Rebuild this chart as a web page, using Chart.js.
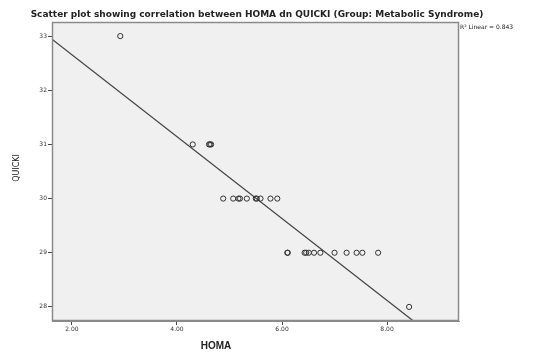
<!DOCTYPE html>
<html>
<head>
<meta charset="utf-8">
<script src="https://cdn.jsdelivr.net/npm/chart.js@4.4.0/dist/chart.umd.min.js"></script>
<style>
  body { margin: 0; background: #fff; }
  #wrap { width: 539px; height: 355px; }
</style>
</head>
<body>
<div id="wrap"><canvas id="myChart" width="539" height="355"></canvas></div>
<script>
'use strict';
// HOMA (x) and QUICKI (y) values
const homa = [2.92, 4.30, 4.61, 4.63, 4.65,
  4.88, 5.07, 5.17, 5.20, 5.33, 5.50, 5.52, 5.59, 5.78, 5.91,
  6.10, 6.11, 6.43, 6.46, 6.51, 6.61, 6.73, 7.00, 7.23, 7.42, 7.53, 7.83, 8.42];
const quicki = [33, 31, 31, 31, 31,
  30, 30, 30, 30, 30, 30, 30, 30, 30, 30,
  29, 29, 29, 29, 29, 29, 29, 29, 29, 29, 29, 29, 28];

// fit line end points
const fitX = [1.62, 8.49];
const fitY = [32.94, 27.75];

const xTicks = [2, 4, 6, 8];
const yTicks = [28, 29, 30, 31, 32, 33];

const titleText = 'Scatter plot showing correlation between HOMA dn QUICKI (Group: Metabolic Syndrome)';
const rSquared = 'R\u00b2 Linear = 0.843';

let points = [];
for (let i = 0; i < homa.length; i++) {
  points.push({ x: homa[i], y: quicki[i] });
}
let fitLine = [];
for (let i = 0; i < fitX.length; i++) {
  fitLine.push({ x: fitX[i], y: fitY[i] });
}

const decor = {
  id: 'decor',
  beforeDraw(chart) {
    const a = chart.chartArea;
    const ctx = chart.ctx;
    ctx.save();
    ctx.fillStyle = '#f0f0f0';
    ctx.fillRect(a.left, a.top, a.right - a.left, a.bottom - a.top);
    ctx.restore();
  },
  afterDraw(chart) {
    const a = chart.chartArea;
    const ctx = chart.ctx;
    ctx.save();
    ctx.strokeStyle = '#8a8a8a';
    ctx.lineWidth = 1.5;
    ctx.strokeRect(a.left + 0.5, a.top + 0.5, a.right - a.left - 1, a.bottom - a.top - 1);

    ctx.fillStyle = '#222';
    ctx.textBaseline = 'middle';
    ctx.textAlign = 'center';
    ctx.font = 'bold 9px "DejaVu Sans"';
    ctx.fillText(titleText, 257, 15);

    ctx.textAlign = 'left';
    ctx.font = '6px "DejaVu Sans"';
    ctx.fillText(rSquared, 460, 27);

    ctx.textAlign = 'center';
    ctx.font = 'bold 10px "Liberation Sans"';
    ctx.fillText('HOMA', 216, 346);

    ctx.translate(17, 168);
    ctx.rotate(-Math.PI / 2);
    ctx.font = '8px "DejaVu Sans"';
    ctx.fillText('QUICKI', 0, 0);
    ctx.restore();
  }
};

let ctx = document.getElementById('myChart').getContext('2d');
let chart = new Chart(ctx, {
  type: 'scatter',
  data: {
    datasets: [{
      label: 'QUICKI',
      data: points,
      showLine: false,
      pointRadius: 2.6,
      pointBorderWidth: 1,
      pointBorderColor: '#333',
      pointBackgroundColor: 'rgba(0,0,0,0)'
    },
    {
      label: 'fit',
      data: fitLine,
      showLine: true,
      borderColor: '#444',
      borderWidth: 1.2,
      pointRadius: 0
    }]
  },
  options: {
    responsive: false,
    animation: false,
    layout: { padding: { top: 22, right: 80, left: 0, bottom: 0 } },
    plugins: {
      legend: { display: false },
      tooltip: { enabled: false }
    },
    scales: {
      x: {
        type: 'linear',
        min: 1.62,
        max: 9.37,
        afterBuildTicks: (s) => { s.ticks = xTicks.map(v => ({ value: v })); },
        afterFit: (s) => { s.height = 34; },
        grid: { drawOnChartArea: false, tickLength: 4, color: '#444' },
        border: { color: '#8a8a8a' },
        ticks: {
          padding: 1,
          color: '#333',
          font: { size: 6, family: 'DejaVu Sans' },
          callback: (v) => Number(v).toFixed(2)
        }
      },
      y: {
        type: 'linear',
        min: 27.74,
        max: 33.26,
        afterBuildTicks: (s) => { s.ticks = yTicks.map(v => ({ value: v })); },
        afterFit: (s) => { s.width = 52; },
        grid: { drawOnChartArea: false, tickLength: 4, color: '#444' },
        border: { color: '#8a8a8a' },
        ticks: {
          padding: 1,
          color: '#333',
          font: { size: 6, family: 'DejaVu Sans' }
        }
      }
    }
  },
  plugins: [decor]
});
</script>
</body>
</html>
